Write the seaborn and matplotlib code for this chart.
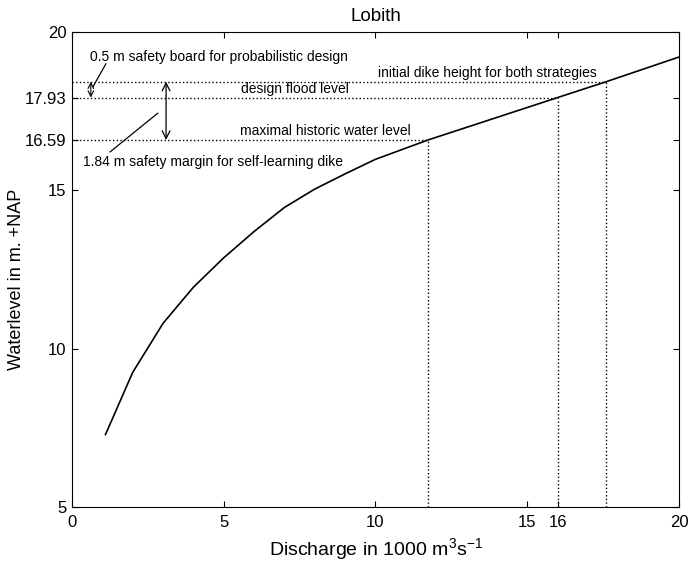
import matplotlib
matplotlib.use("Agg")
import matplotlib.pyplot as plt
import seaborn as sns
import pandas as pd

# rating curve Lobith (discharge in 1000 m3/s, waterlevel in m +NAP)
discharge = [1.1, 2, 3, 4, 5, 6, 7, 8, 9, 10, 11.73, 16, 17.6, 20]
waterlevel = [7.28, 9.25, 10.8, 11.94, 12.87, 13.7, 14.46, 15.04, 15.52, 15.98, 16.59, 17.93, 18.43, 19.21]

# reference levels
level_names = ["maximal historic water level", "design flood level", "initial dike height for both strategies"]
level_values = [16.59, 17.93, 18.43]
level_discharge = [11.73, 16, 17.6]

xticks = [0, 5, 10, 15, 16, 20]
yticks = [5, 10, 15, 16.59, 17.93, 20]
ytick_labels = ["5", "10", "15", "16.59", "17.93", "20"]

df = pd.DataFrame({"Q": discharge, "H": waterlevel})

sns.set_style("ticks")
plt.rcParams["font.family"] = ["Liberation Sans", "DejaVu Sans"]
plt.rcParams["mathtext.fontset"] = "custom"
plt.rcParams["mathtext.rm"] = "Liberation Sans"
plt.rcParams["mathtext.it"] = "Liberation Sans"
plt.rcParams["mathtext.default"] = "regular"
plt.rcParams["text.color"] = "black"
plt.rcParams["axes.labelcolor"] = "black"
plt.rcParams["xtick.direction"] = "in"
plt.rcParams["ytick.direction"] = "in"
plt.rcParams["xtick.top"] = True
plt.rcParams["ytick.right"] = True

fig = plt.figure(figsize=(6.91, 5.82), dpi=100)
ax = fig.add_axes([0.1042, 0.1289, 0.8784, 0.8161])

sns.lineplot(data=df, x="Q", y="H", color="black", linewidth=1.2, ax=ax)

# dotted helper lines
for q, h in zip(level_discharge, level_values):
    ax.plot([0, q], [h, h], color="black", linestyle=":", linewidth=1.0)
    ax.plot([q, q], [5, h], color="black", linestyle=":", linewidth=1.0)

ax.set_xlim(0, 20)
ax.set_ylim(5, 20)
ax.set_xticks(xticks)
ax.set_xticklabels([str(t) for t in xticks])
ax.set_yticks(yticks)
ax.set_yticklabels(ytick_labels)
ax.tick_params(labelsize=12, length=4, width=0.8, colors="black", pad=4)
ax.tick_params(axis="x", pad=6)
for s in ax.spines.values():
    s.set_linewidth(0.8)
    s.set_color("black")

ax.set_title("Lobith", fontsize=13.5, pad=8)
ax.set_xlabel("Discharge in 1000 m$^3$s$^{-1}$", fontsize=14, labelpad=4)
ax.set_ylabel("Waterlevel in m. +NAP", fontsize=13)
ax.yaxis.set_label_coords(-0.078, 0.48)

fs = 10
ax.text(10.08, 18.48, level_names[2], fontsize=fs, va="bottom", ha="left")
ax.text(5.57, 17.98, level_names[1], fontsize=fs, va="bottom", ha="left")
ax.text(5.54, 16.64, level_names[0], fontsize=fs, va="bottom", ha="left")
ax.text(0.59, 19.21, "0.5 m safety board for probabilistic design", fontsize=fs, va="center", ha="left")
ax.text(0.36, 15.9, "1.84 m safety margin for self-learning dike", fontsize=fs, va="center", ha="left")

# double arrows
ax.annotate("", xy=(0.62, level_values[2]), xytext=(0.62, level_values[1]),
            arrowprops=dict(arrowstyle="<->", color="black", lw=0.8, shrinkA=0, shrinkB=0))
ax.annotate("", xy=(3.1, level_values[2]), xytext=(3.1, level_values[0]),
            arrowprops=dict(arrowstyle="<->", color="black", lw=0.9, shrinkA=0, shrinkB=0,
                            mutation_scale=14))

# leader lines
ax.plot([1.12, 0.69], [19.0, 18.27], color="black", linewidth=0.9)
ax.plot([2.83, 1.25], [17.44, 16.21], color="black", linewidth=0.9)

plt.savefig("out.png", dpi=100)
plt.close()
